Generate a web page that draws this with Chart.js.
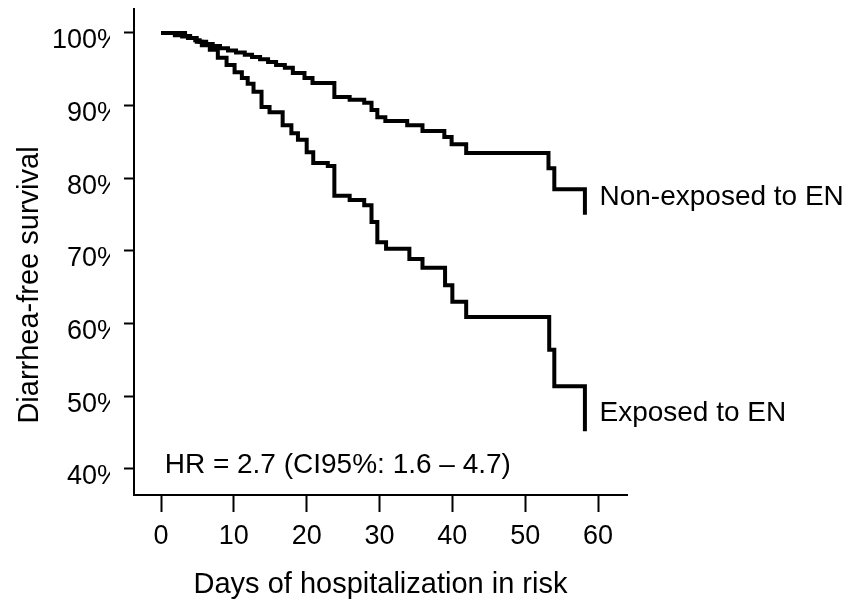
<!DOCTYPE html>
<html>
<head>
<meta charset="utf-8">
<script src="https://cdn.jsdelivr.net/npm/chart.js@4/dist/chart.umd.min.js"></script>
<style>
  html, body { margin: 0; padding: 0; background: #fff; }
  #wrap { width: 861px; height: 608px; }
</style>
</head>
<body>
<div id="wrap"><canvas id="kmChart" width="861" height="608"></canvas></div>
<script>
// Kaplan-Meier steps (day of event, survival % after it)
const nonExpDays = [0, 1.9, 2.9, 3.7, 4.7, 5.3, 6.2, 7.1, 8.1, 9.2, 10.3, 11.5, 12.5, 13.6, 14.7, 15.8, 17.0, 18.1, 19.7, 20.8, 23.8, 25.9, 27.9, 28.9, 29.7, 30.8, 33.8, 35.9, 38.9, 39.9, 41.9, 53.2, 54.0, 58.2];
const nonExpSurv = [100, 99.7, 99.5, 99.3, 99.0, 98.8, 98.5, 98.2, 97.9, 97.6, 97.3, 97.0, 96.7, 96.4, 96.0, 95.6, 95.2, 94.5, 93.8, 93.1, 91.2, 90.8, 90.4, 89.4, 88.4, 87.9, 87.3, 86.5, 85.7, 84.7, 83.5, 81.4, 78.5, 75.0];

const expDays = [0, 3.3, 4.0, 4.9, 5.6, 6.7, 7.8, 9.0, 10.1, 11.1, 11.9, 12.7, 13.8, 14.9, 16.7, 17.9, 18.8, 20.0, 20.9, 22.9, 23.8, 25.9, 27.9, 28.9, 29.7, 30.9, 34.1, 35.9, 39.0, 40.0, 41.9, 53.3, 54.0, 58.2];
const expSurv = [100, 99.6, 99.3, 98.8, 98.3, 97.7, 96.6, 95.6, 94.6, 93.8, 93.0, 91.9, 89.8, 89.1, 87.3, 86.2, 85.3, 83.6, 82.1, 81.7, 77.6, 77.0, 76.3, 74.0, 71.2, 70.3, 68.9, 67.7, 65.3, 63.0, 60.9, 56.4, 51.4, 45.2];

const xTicks = [0, 10, 20, 30, 40, 50, 60];
const yTicks = [40, 50, 60, 70, 80, 90, 100];

const groupLabels = ["Non-exposed to EN", "Exposed to EN"];
const hrText = "HR = 2.7 (CI95%: 1.6 \u2013 4.7)";
const xTitle = "Days of hospitalization in risk";
const yTitle = "Diarrhea-free survival";

Chart.defaults.font.family = "'Liberation Sans', Arial, sans-serif";
Chart.defaults.color = "#000";

const toPoints = (xs, ys) => xs.map((x, i) => ({ x: x, y: ys[i] }));

// texts placed inside the plot + clipped y labels like the original
const extras = {
  id: "extras",
  afterDraw(chart) {
    const ctx = chart.ctx;
    const xs = chart.scales.x, ys = chart.scales.y;
    ctx.save();
    // the % signs are cut in the source picture
    ctx.fillStyle = "#fff";
    ctx.fillRect(110, 0, 13, chart.chartArea.bottom + 20);

    ctx.fillStyle = "#000";
    ctx.font = "28px 'Liberation Sans', Arial, sans-serif";
    ctx.textBaseline = "middle";
    ctx.textAlign = "left";
    const lastNon = nonExpSurv[nonExpSurv.length - 2];
    const lastExp = expSurv[expSurv.length - 2];
    ctx.fillText(groupLabels[0], xs.getPixelForValue(60.2), ys.getPixelForValue(lastNon) + 8);
    ctx.fillText(groupLabels[1], xs.getPixelForValue(60.2), ys.getPixelForValue(lastExp) + 27);
    ctx.fillText(hrText, xs.getPixelForValue(0.5), ys.getPixelForValue(40.5));

    ctx.translate(38, 285);
    ctx.rotate(-Math.PI / 2);
    ctx.textAlign = "center";
    ctx.textBaseline = "alphabetic";
    ctx.font = "29px 'Liberation Sans', Arial, sans-serif";
    ctx.fillText(yTitle, 0, 0);
    ctx.restore();
  }
};

const ctx = document.getElementById("kmChart").getContext("2d");
const kmChart = new Chart(ctx, {
  type: "line",
  data: {
    datasets: [{
      label: groupLabels[0],
      data: toPoints(nonExpDays, nonExpSurv),
      stepped: true,
      borderColor: "#000",
      borderWidth: 4,
      pointRadius: 0,
      fill: false
    }, {
      label: groupLabels[1],
      data: toPoints(expDays, expSurv),
      stepped: true,
      borderColor: "#000",
      borderWidth: 4,
      pointRadius: 0,
      fill: false
    }]
  },
  options: {
    responsive: false,
    animation: false,
    devicePixelRatio: 1,
    layout: { padding: { left: 0, top: 9, right: 234, bottom: 0 } },
    plugins: { legend: { display: false }, tooltip: { enabled: false } },
    scales: {
      x: {
        type: "linear",
        min: -3.71,
        max: 63.98,
        afterFit: s => { s.height = 113; s.paddingLeft = 0; s.paddingRight = 0; },
        afterBuildTicks: s => { s.ticks = xTicks.map(v => ({ value: v })); },
        border: { display: true, color: "#000", width: 2 },
        grid: { drawOnChartArea: false, drawTicks: true, tickLength: 17, tickWidth: 2, color: "#000" },
        ticks: { font: { size: 27 }, padding: 8, maxRotation: 0 },
        title: { display: true, text: xTitle, font: { size: 29 }, padding: { top: 0, bottom: 6 } }
      },
      y: {
        type: "linear",
        min: 36.42,
        max: 103.3,
        afterFit: s => { s.width = 134; s.paddingTop = 0; s.paddingBottom = 0; },
        afterBuildTicks: s => { s.ticks = yTicks.map(v => ({ value: v })); },
        border: { display: true, color: "#000", width: 2 },
        grid: { drawOnChartArea: false, drawTicks: true, tickLength: 10, tickWidth: 2, color: "#000" },
        ticks: { font: { size: 27 }, padding: 3, labelOffset: 8, callback: v => v + "%" }
      }
    }
  },
  plugins: [extras]
});
</script>
</body>
</html>
